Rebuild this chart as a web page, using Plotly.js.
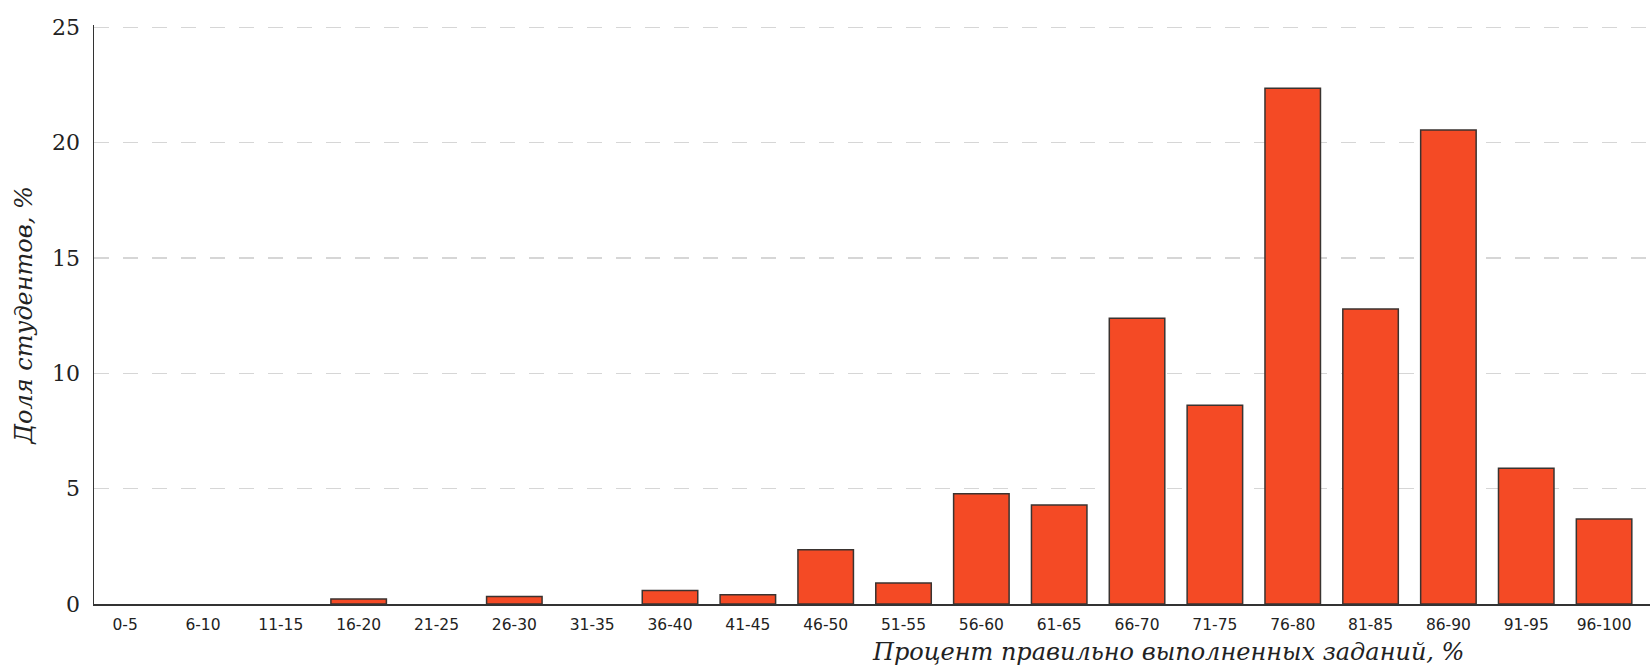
<!DOCTYPE html>
<html>
<head>
<meta charset="utf-8">
<script src="https://cdn.plot.ly/plotly-3.0.1.min.js"></script>
<style>
html,body{margin:0;padding:0;background:#fff;}
#chart{width:1650px;height:668px;}
</style>
</head>
<body>
<div id="chart"></div>
<script>
const categories = ["0-5","6-10","11-15","16-20","21-25","26-30","31-35","36-40","41-45","46-50",
  "51-55","56-60","61-65","66-70","71-75","76-80","81-85","86-90","91-95","96-100"];
const shares = [0, 0, 0, 0.22, 0, 0.33, 0, 0.58, 0.40, 2.35,
  0.91, 4.78, 4.29, 12.39, 8.62, 22.36, 12.79, 20.55, 5.89, 3.68];
const yTicks = [0, 5, 10, 15, 20, 25];
const xTitle = "Процент правильно выполненных заданий, %";
const yTitle = "Доля студентов, %";

const trace = {
  type: "bar",
  x: categories.map((c, i) => i),
  y: shares.map(v => (v > 0 ? v : null)),
  marker: {color: "#F44A25", line: {color: "#3a3330", width: 1.5}},
  width: 0.713,
  hoverinfo: "x+y"
};

const plotH = 668 - 25 - 64;
const layout = {
  width: 1650, height: 668,
  margin: {l: 94, r: 0, t: 25, b: 64},
  paper_bgcolor: "#fff", plot_bgcolor: "#fff",
  showlegend: false,
  xaxis: {
    range: [-0.40, 19.59],
    tickmode: "array",
    tickvals: categories.map((c, i) => i),
    ticktext: categories,
    ticks: "",
    showgrid: false,
    zeroline: false,
    showline: true, linecolor: "#333", linewidth: 1.5,
    tickfont: {family: "DejaVu Sans", size: 15.5, color: "#222"},
    ticklabelstandoff: 6
  },
  yaxis: {
    range: [0, 25.1],
    tickmode: "array",
    tickvals: yTicks,
    ticktext: yTicks.map(String),
    ticks: "",
    showgrid: true, gridcolor: "#d6d6d6", gridwidth: 1.5, griddash: "15px,14px",
    zeroline: false,
    showline: true, linecolor: "#333", linewidth: 1.5,
    tickfont: {family: "DejaVu Serif", size: 22, color: "#222"},
    ticklabelstandoff: 8
  },
  annotations: [
    {text: xTitle, xref: "paper", yref: "paper",
     x: (1167.5 - 94) / 1556, y: -(652 - 604) / plotH,
     xanchor: "center", yanchor: "middle", showarrow: false,
     font: {family: "DejaVu Serif", size: 24, color: "#222", style: "italic"}},
    {text: yTitle, xref: "paper", yref: "paper",
     x: (23 - 94) / 1556, y: (604 - 315.5) / plotH,
     xanchor: "center", yanchor: "middle", showarrow: false, textangle: -90,
     font: {family: "DejaVu Serif", size: 24, color: "#222", style: "italic"}}
  ]
};

Plotly.newPlot("chart", [trace], layout, {staticPlot: true});
</script>
</body>
</html>
